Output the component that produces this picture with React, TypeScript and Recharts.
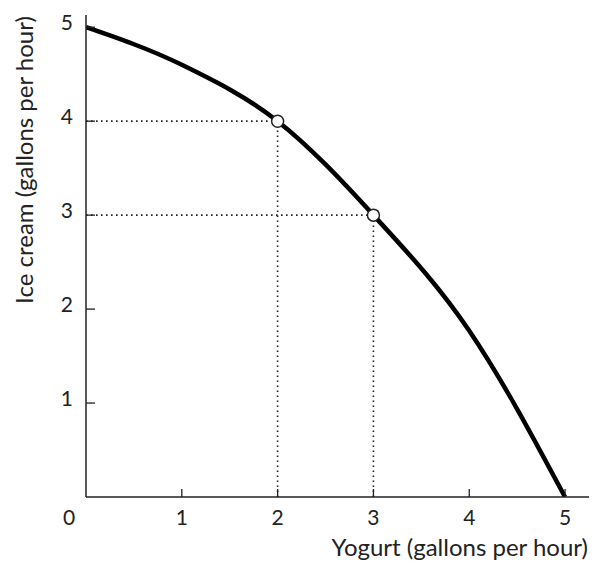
import React from 'react'
import { LineChart, Line, XAxis, YAxis, ReferenceLine } from 'recharts'

// production possibilities: yogurt vs ice cream (gallons per hour)
const yogurt = [0, 1, 2, 3, 4, 5]
const iceCream = [5, 4.6, 4, 3, 1.77, 0]
const markedYogurt = [2, 3]
const xTicks = [0, 1, 2, 3, 4, 5]
const yTicks = [1, 2, 3, 4, 5]

const data = yogurt.map((x, i) => ({ x, y: iceCream[i] }))
const marked = data.filter((d) => markedYogurt.includes(d.x))

const FONT = 'Lato, "Open Sans", sans-serif'
const INK = '#222'

function XTick({ x, y, payload }: any) {
  const v = payload.value
  return (
    <g>
      {v !== 0 && <line x1={x} x2={x} y1={y} y2={y - 8} stroke={INK} strokeWidth={1.3} />}
      <text x={v === 0 ? x - 17 : x} y={y + 28} textAnchor="middle" fontSize={21} fill={INK} fontFamily={FONT}>
        {v}
      </text>
    </g>
  )
}

function YTick({ x, y, payload }: any) {
  return (
    <g>
      <line x1={x} x2={x + 9} y1={y} y2={y} stroke={INK} strokeWidth={1.3} />
      <text x={x - 13} y={y + 3} textAnchor="end" fontSize={21} fill={INK} fontFamily={FONT}>
        {payload.value}
      </text>
    </g>
  )
}

function MarkDot(props: any) {
  const { cx, cy, payload, index } = props
  if (!markedYogurt.includes(payload.x)) return <g key={`d${index}`} />
  return <circle key={`d${index}`} cx={cx} cy={cy} r={6} fill="#fff" stroke={INK} strokeWidth={1.5} />
}

export default function App() {
  return (
    <div style={{ position: 'absolute', left: 0, top: 0, width: 592, height: 566, background: '#fff' }}>
      <LineChart width={592} height={566} data={data} margin={{ top: 15, right: 3, bottom: 68, left: 85 }}>
        <XAxis
          type="number"
          dataKey="x"
          domain={[0, 5.25]}
          ticks={xTicks}
          tick={<XTick />}
          tickLine={false}
          tickSize={0}
          tickMargin={0}
          height={1}
          axisLine={{ stroke: INK, strokeWidth: 1.5 }}
          allowDataOverflow
        />
        <YAxis
          type="number"
          dataKey="y"
          domain={[0, 5.13]}
          ticks={yTicks}
          tick={<YTick />}
          tickLine={false}
          tickSize={0}
          tickMargin={0}
          width={1}
          axisLine={{ stroke: INK, strokeWidth: 1.5 }}
          allowDataOverflow
        />
        {marked.map((d) => (
          <ReferenceLine
            key={`h${d.x}`}
            segment={[{ x: 0, y: d.y }, { x: d.x, y: d.y }]}
            stroke={INK}
            strokeWidth={1.6}
            strokeDasharray="1.6 3.4"
          />
        ))}
        {marked.map((d) => (
          <ReferenceLine
            key={`v${d.x}`}
            segment={[{ x: d.x, y: 0 }, { x: d.x, y: d.y }]}
            stroke={INK}
            strokeWidth={1.6}
            strokeDasharray="1.6 3.4"
          />
        ))}
        <Line
          type="monotone"
          dataKey="y"
          stroke="#000"
          strokeWidth={4.5}
          dot={MarkDot}
          activeDot={false}
          isAnimationActive={false}
        />
      </LineChart>
      <div
        style={{
          position: 'absolute',
          left: 23,
          top: 160,
          transform: 'translate(-50%, -50%) rotate(-90deg)',
          whiteSpace: 'nowrap',
          fontFamily: FONT,
          fontSize: 24,
          color: INK,
        }}
      >
        Ice cream (gallons per hour)
      </div>
      <div
        style={{
          position: 'absolute',
          right: 4,
          top: 532,
          whiteSpace: 'nowrap',
          fontFamily: FONT,
          fontSize: 24,
          color: INK,
        }}
      >
        Yogurt (gallons per hour)
      </div>
    </div>
  )
}
